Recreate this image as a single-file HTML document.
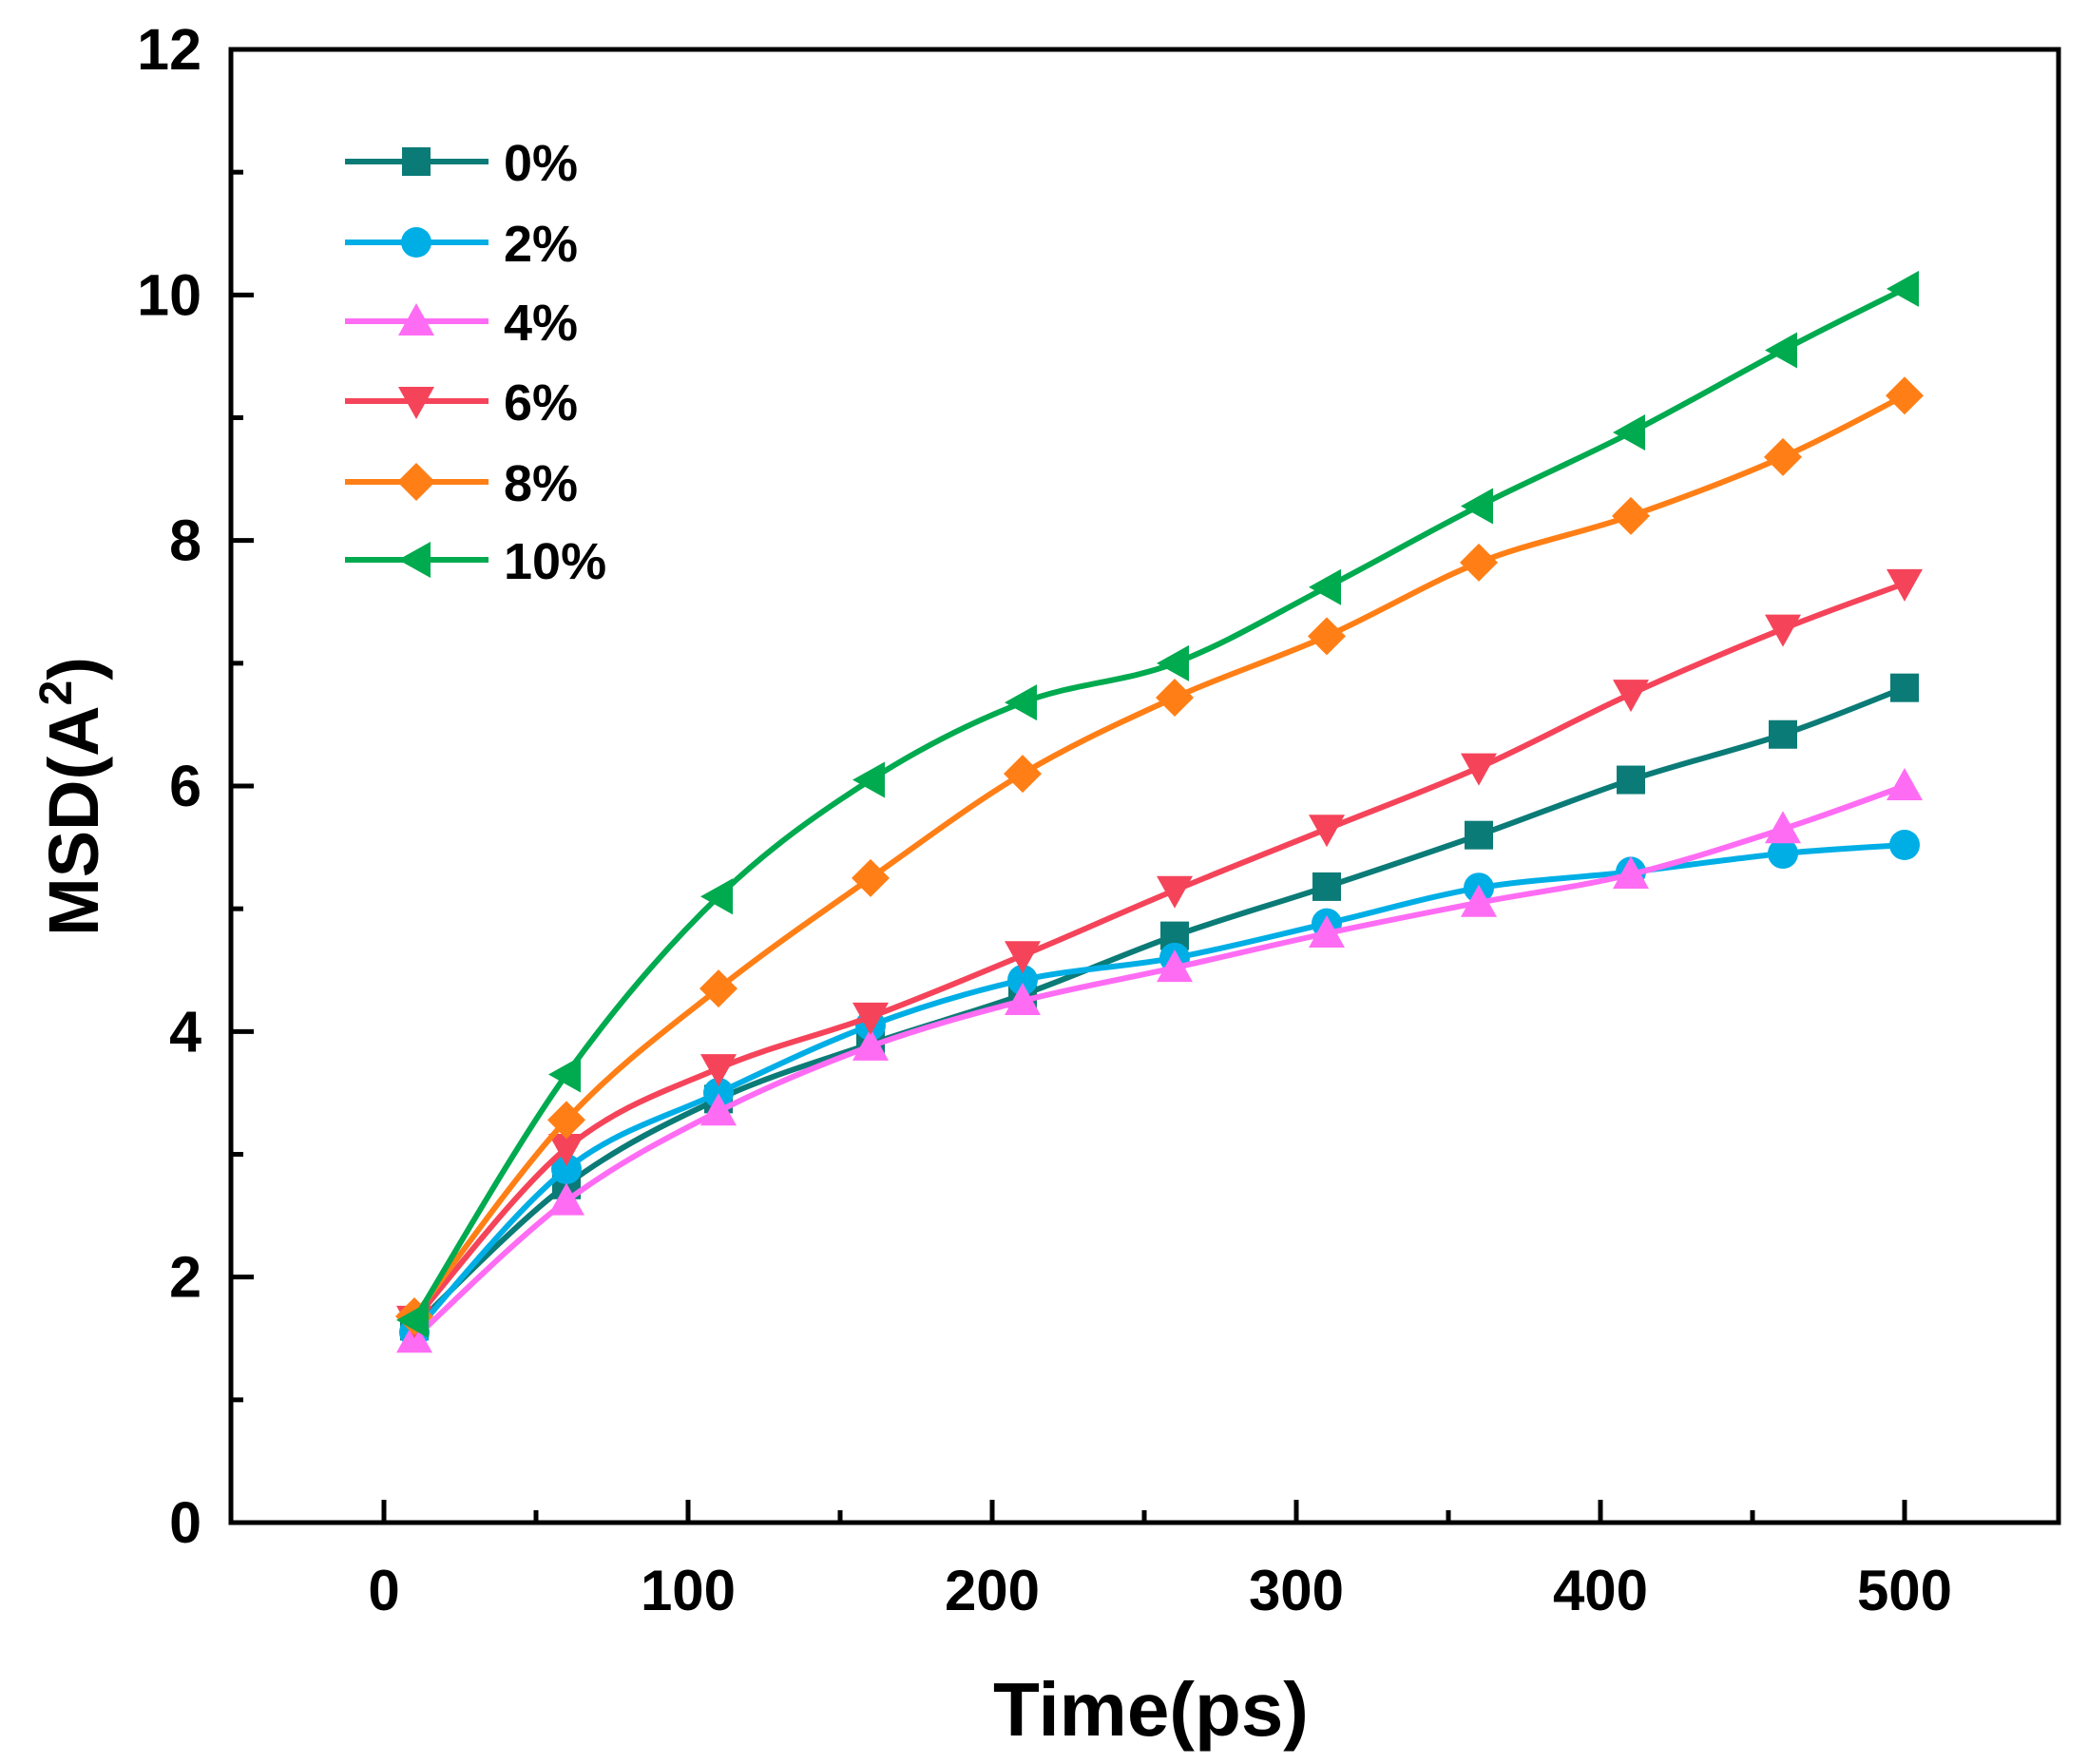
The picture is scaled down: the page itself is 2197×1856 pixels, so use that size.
<!DOCTYPE html>
<html><head><meta charset="utf-8"><style>
html,body{margin:0;padding:0;background:#fff;}
svg{display:block;font-family:"Liberation Sans",Arial,sans-serif;font-weight:bold;}
</style></head><body>
<svg id="chart" width="2197" height="1856" viewBox="0 0 2197 1856" xmlns="http://www.w3.org/2000/svg"></svg>
<script>
const times = [10,60,110,160,210,260,310,360,410,460,500];
const s0  = [1.6,2.75,3.45,3.9,4.3,4.78,5.18,5.6,6.05,6.42,6.8];
const s2  = [1.55,2.88,3.5,4.05,4.42,4.6,4.88,5.17,5.3,5.45,5.52];
const s4  = [1.5,2.62,3.35,3.88,4.25,4.52,4.8,5.05,5.28,5.65,6.0];
const s6  = [1.65,3.05,3.7,4.12,4.62,5.15,5.65,6.15,6.75,7.28,7.65];
const s8  = [1.68,3.28,4.35,5.25,6.1,6.72,7.22,7.82,8.2,8.68,9.18];
const s10 = [1.65,3.65,5.1,6.05,6.68,7.0,7.62,8.28,8.88,9.55,10.05];
const seriesLabels = ["0%","2%","4%","6%","8%","10%"];
const xTicks = [0,100,200,300,400,500];
const yTicks = [0,2,4,6,8,10,12];

const NS="http://www.w3.org/2000/svg";
const svg=document.getElementById('chart');
const L=243,R=2166,T=52,B=1602;
const X0=404,X500=2004;
const xs=v=>X0+(v/500)*(X500-X0);
const ys=v=>B-(v/12)*(B-T);
function mk(tag,attrs,parent){const e=document.createElementNS(NS,tag);for(const k in attrs)e.setAttribute(k,attrs[k]);(parent||svg).appendChild(e);return e;}

const series=[
 {d:s0,c:"#0b7b77",m:"square"},
 {d:s2,c:"#00aee6",m:"circle"},
 {d:s4,c:"#ff6cf4",m:"tri-up"},
 {d:s6,c:"#f5445a",m:"tri-down"},
 {d:s8,c:"#ff7f16",m:"diamond"},
 {d:s10,c:"#00aa4f",m:"tri-left"}
];
function marker(type,x,y,c,g){
  const s=15;let e;
  if(type==="square") e=mk('rect',{x:x-s,y:y-s,width:2*s,height:2*s,fill:c},g);
  else if(type==="circle") e=mk('circle',{cx:x,cy:y,r:s+1,fill:c},g);
  else {
    let p;
    if(type==="tri-up") p=[[x,y-s-4],[x+s+4,y+s],[x-s-4,y+s]];
    if(type==="tri-down") p=[[x,y+s+4],[x+s+4,y-s],[x-s-4,y-s]];
    if(type==="tri-left") p=[[x-s-4,y],[x+s,y-s-4],[x+s,y+s+4]];
    if(type==="diamond") p=[[x,y-s-5],[x+s+5,y],[x,y+s+5],[x-s-5,y]];
    e=mk('polygon',{points:p.map(a=>a.join(',')).join(' '),fill:c},g);
  }
  return e;
}
function smooth(pts){
  let d=`M${pts[0][0]},${pts[0][1]}`;
  for(let i=0;i<pts.length-1;i++){
    const p0=pts[Math.max(i-1,0)],p1=pts[i],p2=pts[i+1],p3=pts[Math.min(i+2,pts.length-1)];
    const c1=[p1[0]+(p2[0]-p0[0])/6,p1[1]+(p2[1]-p0[1])/6];
    const c2=[p2[0]-(p3[0]-p1[0])/6,p2[1]-(p3[1]-p1[1])/6];
    d+=` C${c1[0]},${c1[1]} ${c2[0]},${c2[1]} ${p2[0]},${p2[1]}`;
  }
  return d;
}
series.forEach((s,i)=>{
  const g=mk('g',{});
  
  
  const pts=times.map((t,j)=>[xs(t),ys(s.d[j])]);
  const p=mk('path',{d:smooth(pts),fill:'none',stroke:s.c,'stroke-width':6},g);
  
  
  pts.forEach(pt=>{
    const m=marker(s.m,pt[0],pt[1],s.c,g);
    
    
  });
});
const fr=mk('rect',{x:L,y:T,width:R-L,height:B-T,fill:'none',stroke:'#000','stroke-width':5});


xTicks.forEach(v=>{
  const x=xs(v);
  const t=mk('line',{x1:x,y1:B,x2:x,y2:B-24,stroke:'#000','stroke-width':5});
  
  
  const lb=mk('text',{x:x,y:1694,'text-anchor':'middle','font-size':60});
  lb.textContent=v;
  
  
  if(v<500){
    const m=mk('line',{x1:xs(v+50),y1:B,x2:xs(v+50),y2:B-13,stroke:'#000','stroke-width':5});
    
    
  }
});
yTicks.forEach(v=>{
  const y=ys(v);
  const t=mk('line',{x1:L,y1:y,x2:L+24,y2:y,stroke:'#000','stroke-width':5});
  
  
  const lb=mk('text',{x:212,y:y+21,'text-anchor':'end','font-size':61});
  lb.textContent=v;
  
  
  if(v<12){
    const m=mk('line',{x1:L,y1:ys(v+1),x2:L+13,y2:ys(v+1),stroke:'#000','stroke-width':5});
    
    
  }
});
const xt=mk('text',{x:1211,y:1826,'text-anchor':'middle','font-size':80});
xt.textContent='Time(ps)';


const yt=mk('text',{x:0,y:0,'text-anchor':'middle','font-size':74,transform:'translate(103,838) rotate(-90)'});
yt.innerHTML='MSD(A<tspan dy="-28" font-size="48">2</tspan><tspan dy="28">)</tspan>';


const legY=[170,255,338,422,507,589];
series.forEach((s,i)=>{
  const g=mk('g',{});
  
  
  mk('line',{x1:363,y1:legY[i],x2:514,y2:legY[i],stroke:s.c,'stroke-width':6},g);
  marker(s.m,438,legY[i],s.c,g);
  const tx=mk('text',{x:530,y:legY[i]+20,'font-size':54},g);
  tx.textContent=seriesLabels[i];
});
</script>
</body></html>
